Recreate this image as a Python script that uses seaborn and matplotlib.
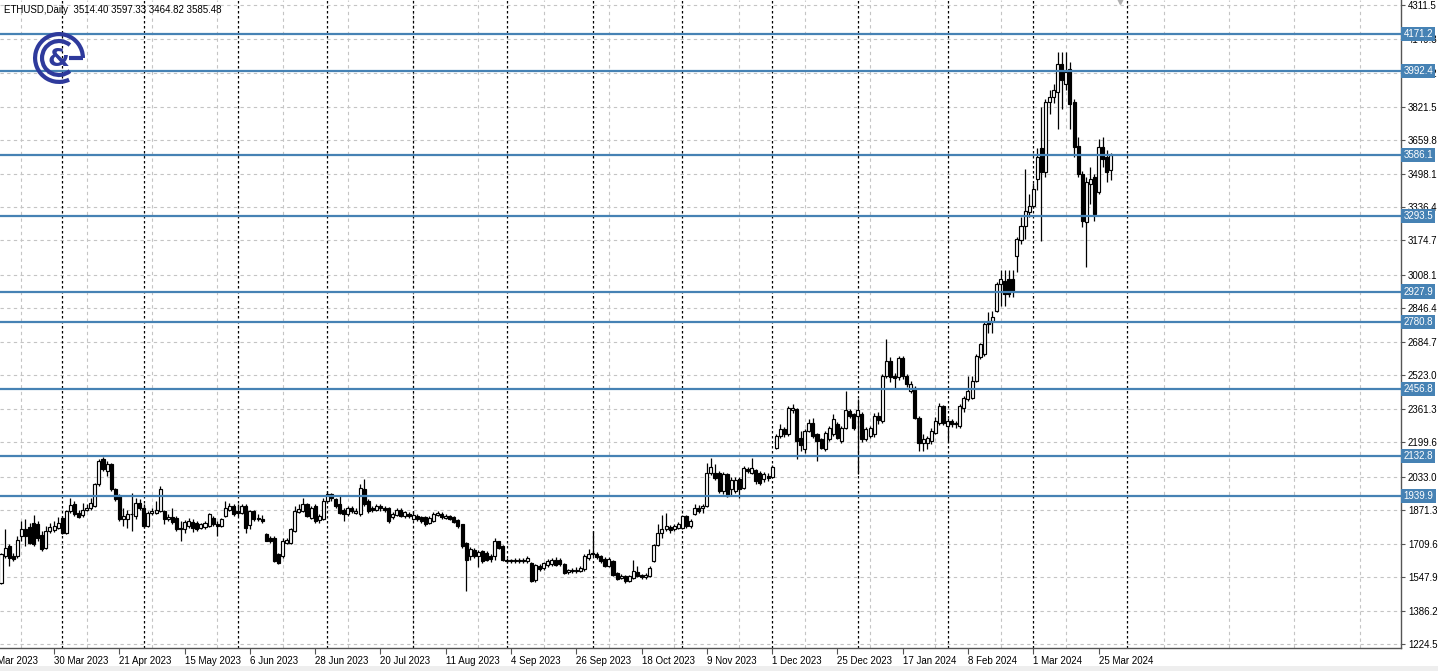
import numpy as np
import pandas as pd
import matplotlib
matplotlib.use("Agg")
import matplotlib.pyplot as plt
import matplotlib.transforms as mtransforms
from matplotlib.patches import Arc, Rectangle
import seaborn as sns

# ---------------- data (daily ETHUSD, weekday bars) ----------------
opens = [1520, 1650, 1698, 1650, 1650, 1746, 1783, 1790, 1811, 1803,
         1754, 1690, 1771, 1774, 1787, 1835, 1762, 1867, 1900, 1859,
         1848, 1875, 1884, 1892, 1996, 2117, 2061, 2093, 1972, 1940,
         1827, 1827, 1851, 1843, 1908, 1884, 1795, 1859, 1859, 1867,
         1867, 1830, 1840, 1835, 1787, 1783, 1795, 1816, 1811, 1787,
         1790, 1795, 1835, 1803, 1795, 1843, 1875, 1892, 1867, 1859,
         1892, 1800, 1867, 1835, 1830, 1758, 1738, 1738, 1658, 1650,
         1714, 1714, 1771, 1864, 1867, 1900, 1835, 1892, 1822, 1827,
         1916, 1952, 1924, 1900, 1875, 1851, 1880, 1860, 1851, 1972,
         1916, 1883, 1875, 1892, 1883, 1880, 1838, 1848, 1871, 1843,
         1854, 1830, 1843, 1838, 1838, 1811, 1819, 1849, 1855, 1833,
         1843, 1838, 1822, 1803, 1714, 1650, 1680, 1650, 1674, 1666,
         1650, 1650, 1722, 1698, 1633, 1625, 1632, 1625, 1630, 1624,
         1617, 1533, 1601, 1593, 1606, 1610, 1633, 1633, 1612, 1572,
         1582, 1577, 1580, 1588, 1640, 1665, 1660, 1650, 1638, 1601,
         1625, 1569, 1545, 1553, 1530, 1545, 1572, 1558, 1548, 1555,
         1625, 1703, 1763, 1779, 1790, 1780, 1787, 1787, 1843, 1795,
         1855, 1884, 1880, 1892, 2053, 2053, 2053, 1964, 2045, 1975,
         1964, 2021, 1980, 2070, 2053, 2064, 2053, 2021, 2037, 2032,
         2174, 2230, 2263, 2238, 2355, 2360, 2222, 2166, 2255, 2295,
         2238, 2214, 2166, 2214, 2238, 2287, 2206, 2271, 2351, 2335,
         2327, 2338, 2214, 2230, 2238, 2327, 2303, 2521, 2593, 2521,
         2513, 2606, 2521, 2448, 2464, 2319, 2198, 2198, 2206, 2247,
         2295, 2375, 2280, 2303, 2287, 2279, 2367, 2408, 2416, 2497,
         2610, 2626, 2787, 2787, 2835, 2964, 2980, 2989, 2989, 3101,
         3177, 3247, 3311, 3343, 3473, 3620, 3505, 3844, 3868, 3892,
         4029, 3933, 4005, 3844, 3629, 3497, 3263, 3448, 3481, 3408,
         3626, 3577, 3514.40]
highs = [1666, 1779, 1706, 1666, 1746, 1819, 1827, 1811, 1848, 1819,
         1771, 1795, 1811, 1819, 1838, 1845, 1875, 1932, 1916, 1875,
         1908, 1900, 1932, 2005, 2117, 2129, 2109, 2101, 1980, 1948,
         1884, 1875, 1956, 1932, 1924, 1900, 1867, 1884, 1916, 1988,
         1875, 1851, 1884, 1843, 1819, 1822, 1832, 1827, 1819, 1811,
         1819, 1859, 1843, 1819, 1835, 1916, 1908, 1900, 1900, 1900,
         1900, 1875, 1875, 1851, 1848, 1763, 1746, 1746, 1666, 1738,
         1738, 1787, 1892, 1900, 1929, 1908, 1892, 1900, 1851, 1932,
         1965, 1956, 1932, 1940, 1883, 1892, 1892, 1883, 1996, 2021,
         1924, 1892, 1900, 1900, 1892, 1888, 1864, 1880, 1880, 1870,
         1862, 1870, 1852, 1846, 1846, 1843, 1862, 1867, 1862, 1852,
         1850, 1843, 1827, 1806, 1720, 1695, 1690, 1680, 1680, 1674,
         1658, 1738, 1725, 1703, 1640, 1638, 1642, 1640, 1640, 1650,
         1622, 1614, 1612, 1622, 1635, 1642, 1645, 1640, 1617, 1590,
         1593, 1595, 1600, 1658, 1682, 1770, 1670, 1656, 1645, 1645,
         1630, 1574, 1565, 1560, 1558, 1633, 1601, 1565, 1568, 1600,
         1710, 1803, 1850, 1860, 1800, 1805, 1815, 1850, 1850, 1830,
         1900, 1895, 1900, 2100, 2126, 2093, 2060, 2055, 2050, 2030,
         2030, 2030, 2085, 2080, 2126, 2070, 2060, 2055, 2050, 2090,
         2240, 2287, 2275, 2376, 2384, 2365, 2255, 2265, 2311, 2319,
         2245, 2222, 2255, 2280, 2335, 2300, 2280, 2448, 2360, 2340,
         2408, 2345, 2275, 2280, 2340, 2345, 2530, 2700, 2610, 2535,
         2615, 2615, 2530, 2495, 2470, 2325, 2238, 2230, 2270, 2320,
         2390, 2380, 2315, 2310, 2305, 2385, 2425, 2520, 2520, 2625,
         2680, 2780, 2830, 2835, 2975, 3030, 3030, 3030, 3030, 3190,
         3287, 3521, 3400, 3450, 3620, 3820, 3860, 3900, 3932, 4086,
         4086, 4086, 4037, 3860, 3674, 3510, 3480, 3529, 3497, 3666,
         3674, 3610, 3597.33]
lows = [1516, 1642, 1601, 1625, 1642, 1722, 1698, 1706, 1698, 1722,
        1674, 1682, 1763, 1767, 1779, 1755, 1758, 1859, 1843, 1832,
        1838, 1867, 1875, 1887, 1988, 2061, 2037, 1964, 1916, 1819,
        1795, 1787, 1771, 1827, 1875, 1787, 1790, 1848, 1855, 1864,
        1803, 1819, 1803, 1771, 1722, 1763, 1787, 1767, 1771, 1779,
        1783, 1790, 1795, 1746, 1790, 1838, 1867, 1843, 1843, 1855,
        1763, 1779, 1819, 1819, 1811, 1722, 1714, 1622, 1612, 1642,
        1709, 1709, 1767, 1859, 1864, 1838, 1830, 1811, 1811, 1822,
        1908, 1916, 1883, 1851, 1819, 1843, 1859, 1851, 1843, 1892,
        1859, 1864, 1867, 1867, 1864, 1811, 1830, 1843, 1838, 1835,
        1835, 1822, 1820, 1812, 1795, 1803, 1815, 1843, 1830, 1827,
        1822, 1811, 1787, 1690, 1480, 1630, 1640, 1595, 1617, 1625,
        1622, 1633, 1682, 1625, 1615, 1617, 1617, 1618, 1615, 1617,
        1525, 1525, 1580, 1585, 1598, 1601, 1601, 1604, 1562, 1565,
        1568, 1570, 1572, 1580, 1633, 1650, 1638, 1617, 1595, 1595,
        1553, 1535, 1537, 1522, 1525, 1540, 1550, 1540, 1540, 1550,
        1620, 1698, 1738, 1770, 1762, 1770, 1780, 1780, 1787, 1788,
        1850, 1860, 1860, 1885, 2040, 2020, 1955, 1950, 1935, 1940,
        1955, 1930, 1975, 2050, 2045, 2000, 1995, 2010, 2015, 2025,
        2165, 2220, 2225, 2230, 2340, 2117, 2158, 2150, 2250, 2222,
        2109, 2165, 2160, 2205, 2230, 2215, 2195, 2265, 2315, 2260,
        2045, 2200, 2205, 2220, 2225, 2290, 2295, 2510, 2490, 2464,
        2500, 2505, 2465, 2440, 2310, 2158, 2158, 2165, 2190, 2240,
        2285, 2285, 2206, 2275, 2271, 2270, 2345, 2400, 2410, 2490,
        2600, 2615, 2730, 2730, 2830, 2860, 2860, 2900, 2900, 3021,
        3158, 3182, 3290, 3330, 3420, 3170, 3480, 3787, 3840, 3715,
        3811, 3900, 3715, 3577, 3480, 3239, 3045, 3352, 3271, 3400,
        3529, 3456, 3464.82]
closes = [1658, 1690, 1642, 1634, 1730, 1783, 1746, 1714, 1706, 1738,
          1682, 1771, 1790, 1795, 1811, 1760, 1867, 1895, 1851, 1838,
          1875, 1884, 1908, 1996, 2109, 2069, 2093, 1972, 1924, 1827,
          1843, 1851, 1855, 1908, 1884, 1795, 1859, 1867, 1875, 1972,
          1827, 1840, 1815, 1779, 1779, 1816, 1819, 1787, 1779, 1803,
          1811, 1851, 1803, 1795, 1827, 1884, 1892, 1851, 1859, 1892,
          1787, 1867, 1827, 1827, 1819, 1725, 1722, 1625, 1617, 1722,
          1730, 1779, 1867, 1879, 1900, 1843, 1883, 1819, 1843, 1916,
          1952, 1932, 1892, 1859, 1851, 1883, 1867, 1870, 1980, 1900,
          1867, 1875, 1890, 1880, 1871, 1819, 1854, 1871, 1843, 1864,
          1843, 1848, 1827, 1819, 1803, 1835, 1854, 1859, 1838, 1846,
          1830, 1816, 1795, 1698, 1633, 1682, 1650, 1672, 1625, 1633,
          1638, 1722, 1690, 1633, 1625, 1632, 1625, 1630, 1624, 1640,
          1529, 1609, 1590, 1617, 1625, 1633, 1609, 1612, 1569, 1582,
          1576, 1584, 1593, 1650, 1661, 1660, 1648, 1625, 1601, 1638,
          1561, 1541, 1556, 1529, 1553, 1577, 1555, 1548, 1560, 1593,
          1703, 1763, 1779, 1795, 1775, 1795, 1806, 1843, 1795, 1819,
          1884, 1870, 1890, 2053, 2080, 2029, 1964, 2045, 1940, 2020,
          2016, 1972, 2077, 2062, 2077, 2013, 2005, 2045, 2025, 2080,
          2230, 2263, 2238, 2364, 2364, 2206, 2185, 2255, 2295, 2230,
          2206, 2174, 2246, 2271, 2311, 2222, 2271, 2355, 2327, 2271,
          2355, 2214, 2263, 2271, 2327, 2306, 2521, 2593, 2513, 2508,
          2606, 2521, 2480, 2480, 2319, 2198, 2214, 2222, 2254, 2303,
          2375, 2295, 2303, 2287, 2295, 2375, 2416, 2448, 2497, 2618,
          2674, 2771, 2771, 2803, 2964, 2989, 2916, 2916, 2932, 3182,
          3247, 3319, 3343, 3424, 3577, 3505, 3844, 3868, 3900, 4029,
          3949, 3989, 3836, 3626, 3497, 3271, 3456, 3473, 3303, 3626,
          3569, 3505, 3585.48]

level_prices = [4171.2, 3992.4, 3586.1, 3293.5, 2927.9, 2780.8, 2456.8, 2132.8, 1939.9]
price_ticks = [4311.5, 4149.8, 3983.2, 3821.5, 3659.8, 3498.1, 3336.4, 3174.7, 3008.1,
               2846.4, 2684.7, 2523.0, 2361.3, 2199.6, 2033.0, 1871.3, 1709.6, 1547.9,
               1386.2, 1224.5]
date_tick_labels = ["8 Mar 2023", "30 Mar 2023", "21 Apr 2023", "15 May 2023", "6 Jun 2023",
                    "28 Jun 2023", "20 Jul 2023", "11 Aug 2023", "4 Sep 2023", "26 Sep 2023",
                    "18 Oct 2023", "9 Nov 2023", "1 Dec 2023", "25 Dec 2023", "17 Jan 2024",
                    "8 Feb 2024", "1 Mar 2024", "25 Mar 2024"]
header = "ETHUSD,Daily  3514.40 3597.33 3464.82 3585.48"

# weekday bars, 1 Jan 2024 missing
dates = pd.bdate_range("2023-03-13", "2024-03-28")
dates = dates[dates != pd.Timestamp("2024-01-01")]
n = len(opens)

df = pd.DataFrame({"date": dates[:n], "open": opens, "high": highs,
                   "low": lows, "close": closes})
df["idx"] = np.arange(n)
df["bull"] = df["close"] >= df["open"]

# ---------------- style ----------------
sns.set_theme(style="white")
plt.rcParams["font.family"] = ["Liberation Sans", "DejaVu Sans"]
plt.rcParams["axes.linewidth"] = 1.0

W, H = 1438, 671
fig = plt.figure(figsize=(W / 100, H / 100), dpi=100)
fig.patch.set_facecolor("white")
ax_bottom_px = 648
ax = fig.add_axes([0, (H - ax_bottom_px) / H, 1401 / W, ax_bottom_px / H])
ax.set_facecolor("white")

bar_px = 4.08
x_left = (0 - 1) / bar_px
x_right = (1401 - 1) / bar_px
y_low, y_high = 1206.0, 4336.4

# grid
grid_col = "#c4c4c4"
for p in price_ticks:
    ax.axhline(p, color=grid_col, lw=0.8, ls=(0, (3, 3)), zorder=0.5)

vgrid = list(range(5, 262, 16)) + [285, 301, 317, 333]
for g in vgrid:
    ax.axvline(g, color=grid_col, lw=0.8, ls=(0, (3, 3)), zorder=0.5)

# period separators (first bar of each month)
months = df["date"].dt.to_period("M")
sep_idx = list(df["idx"][months != months.shift(1)].iloc[1:]) + [276]
for s in sep_idx:
    ax.axvline(s, color="black", lw=0.9, ls=(0, (2, 2)), zorder=0.6)

# candles
ax.vlines(df["idx"], df["low"], df["high"], color="black", lw=0.9, zorder=2)
body_w = 0.74
bottoms = np.minimum(df["open"], df["close"])
heights = np.maximum(np.abs(df["close"] - df["open"]), 3)
faces = np.where(df["bull"], "white", "black")
ax.bar(df["idx"], heights, bottom=bottoms, width=body_w, color=faces,
       edgecolor="black", linewidth=0.85, zorder=3)

# horizontal levels
level_col = "#4682b4"
for lv in level_prices:
    ax.axhline(lv, color=level_col, lw=1.6, zorder=4)

# axes / ticks
for side in ["top", "left"]:
    ax.spines[side].set_visible(False)
for side in ["right", "bottom"]:
    ax.spines[side].set_color("#555555")
    ax.spines[side].set_linewidth(1.0)

ax.yaxis.tick_right()
ax.set_yticks(price_ticks)
ax.set_yticklabels([f"{p:.1f}" for p in price_ticks])
ax.tick_params(axis="y", which="major", direction="out", length=3, width=0.8,
               color="#555555", pad=2, labelsize=7, labelcolor="black",
               right=True, left=False)

tick_pos = []
for lab in date_tick_labels:
    d = pd.Timestamp(lab)
    if d < dates[0]:
        tick_pos.append(-int(np.busday_count(d.date(), dates[0].date())))
    else:
        tick_pos.append(int(dates.get_loc(d)))
ax.set_xticks(tick_pos)
ax.set_xticklabels(date_tick_labels, ha="left")
ax.tick_params(axis="x", which="major", direction="out", length=4, width=0.8,
               color="#555555", pad=2, labelsize=7, labelcolor="black", bottom=True)
ax.grid(False)

# limits last (set_xticks would otherwise widen the view)
ax.set_xlim(x_left, x_right)
ax.set_ylim(y_low, y_high)

# first date label lies left of the view: draw it cut by the figure edge
xblend = mtransforms.blended_transform_factory(ax.transData, ax.transAxes)
off = mtransforms.ScaledTranslation(0, -6 / 72, fig.dpi_scale_trans)
ax.text(tick_pos[0], 0, date_tick_labels[0], transform=xblend + off,
        ha="left", va="top", fontsize=7, color="black", clip_on=False)

# level price tags on the right axis
blend = mtransforms.blended_transform_factory(ax.transAxes, ax.transData)
for lv in level_prices:
    ax.text(1.0018, lv, f"{lv:.1f}", transform=blend, ha="left", va="center",
            fontsize=7, color="white", zorder=10, clip_on=False,
            bbox=dict(boxstyle="square,pad=0.22", fc=level_col, ec="none"))

# small shift marker at top
ax.plot([(1120 - 1) / bar_px], [4330], marker="v", ms=5, color="#b0b0b0",
        clip_on=False, zorder=5)

# header text
fig.text(4 / W, 1 - 10 / H, header, fontsize=7, color="black", va="center", ha="left")

# bottom light strip
fig.patches.append(Rectangle((0, 0), 1, 5 / H, transform=fig.transFigure,
                             facecolor="#eeeeee", edgecolor="none", zorder=0))

# logo
lcol = "#2e3a9c"
lax = fig.add_axes([32 / W, 1 - 85 / H, 54 / W, 54 / H])
lax.set_xlim(-1.05, 1.05)
lax.set_ylim(-1.05, 1.05)
lax.set_aspect("equal")
lax.axis("off")
lax.add_patch(Arc((0, 0), 1.86, 1.86, theta1=0, theta2=295, lw=3.0, color=lcol))
lax.add_patch(Arc((0, 0), 1.32, 1.32, theta1=50, theta2=310, lw=3.0, color=lcol))
lax.plot([0.4, 0.93], [0, 0], color=lcol, lw=3.0, solid_capstyle="butt")
lax.text(-0.03, -0.04, "&", fontsize=18, color=lcol, ha="center", va="center",
         fontweight="bold", family="DejaVu Sans")

fig.savefig("out.png", dpi=100, facecolor="white")
